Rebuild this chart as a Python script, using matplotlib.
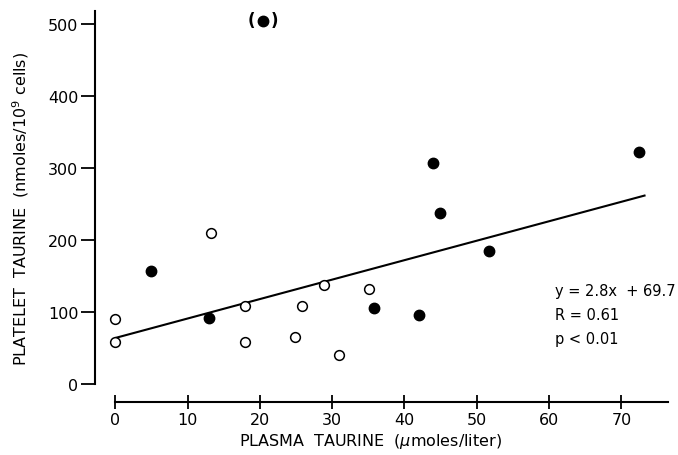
import matplotlib
matplotlib.use("Agg")
import matplotlib.pyplot as plt

# open circles
open_x = [0, 0, 13.3, 17.9, 17.9, 24.9, 25.8, 28.9, 30.9, 35.1]
open_y = [90, 59, 210, 109, 59, 65, 109, 137, 41, 132]

# filled circles
filled_x = [5.0, 13.0, 35.8, 42.0, 43.9, 44.95, 51.7, 72.4]
filled_y = [157, 92, 105, 96, 307, 238, 185, 322]

# outlier shown in parentheses
outlier_x = [20.4]
outlier_y = [505]

# regression line as drawn
fit_x = [0, 73.2]
fit_y = [64, 262]

x_ticks = [0, 10, 20, 30, 40, 50, 60, 70]
y_ticks = [0, 100, 200, 300, 400, 500]

plt.rcParams['font.family'] = ['DejaVu Sans']

fig = plt.figure(figsize=(6.78, 4.56), dpi=100)
ax = fig.add_axes([95 / 678, 1 - 403 / 456, (672 - 95) / 678, (403 - 11) / 456])

ax.plot(fit_x, fit_y, color='black', lw=1.5, zorder=2)
ax.plot(open_x, open_y, 'o', ms=7, mfc='white', mec='black', mew=1.1, zorder=3)
ax.plot(filled_x, filled_y, 'o', ms=7.5, color='black', zorder=3)
ax.plot(outlier_x, outlier_y, 'o', ms=7.5, color='black', zorder=3)
ax.annotate('(', (outlier_x[0], outlier_y[0]), xytext=(-8.5, 0.5), textcoords='offset points',
            ha='center', va='center', fontsize=12, fontweight='bold')
ax.annotate(')', (outlier_x[0], outlier_y[0]), xytext=(8.5, 0.5), textcoords='offset points',
            ha='center', va='center', fontsize=12, fontweight='bold')

ax.set_xlim(-2.8, 77)
ax.set_ylim(-25, 520)

for s in ['top', 'right']:
    ax.spines[s].set_visible(False)
ax.spines['left'].set_bounds(0, 518)
ax.spines['bottom'].set_bounds(0, 76.5)
ax.spines['left'].set_linewidth(1.5)
ax.spines['bottom'].set_linewidth(1.5)

ax.set_xticks(x_ticks)
ax.set_yticks(y_ticks)
ax.tick_params(axis='x', direction='inout', length=10, width=1.3, labelsize=11.5, pad=2)
ax.tick_params(axis='y', direction='out', length=10, width=1.3, labelsize=11.5, pad=2)

ax.set_xlabel('PLASMA  TAURINE  ($\\mu$moles/liter)', fontsize=11.5)
ax.xaxis.set_label_coords((371 - 95) / 577, -(442 - 403) / 392)
ax.xaxis.label.set_va('center')
ax.set_ylabel('PLATELET  TAURINE  (nmoles/10$^9$ cells)', fontsize=11.5)
ax.yaxis.set_label_coords(-(95 - 21) / 577, (403 - 209) / 392)
ax.yaxis.label.set_va('center')

ax.text(60.8, 141, 'y = 2.8x  + 69.7\nR = 0.61\np < 0.01', fontsize=10.5,
        va='top', ha='left', linespacing=1.75)

fig.savefig('out.png', dpi=100)
